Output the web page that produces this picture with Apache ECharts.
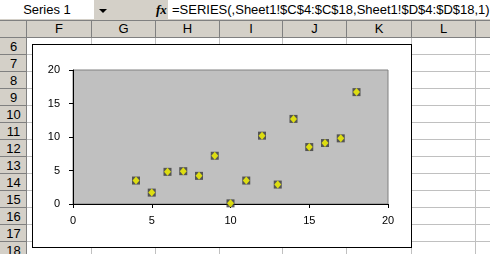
<!DOCTYPE html>
<html><head><meta charset="utf-8">
<script src="https://cdn.jsdelivr.net/npm/echarts@6/dist/echarts.min.js"></script>
<style>
html,body{margin:0;padding:0;width:490px;height:254px;overflow:hidden;background:#fff;font-family:"Liberation Sans",Arial,sans-serif;}
#ui{position:absolute;left:0;top:0;width:490px;height:254px;}
.abs{position:absolute;}
#bar{left:0;top:0;width:490px;height:20px;background:#d4d0c8;}
#namebox{left:0;top:0;width:94px;height:19px;background:#fff;font-size:13px;line-height:19px;text-align:center;color:#000;}
#arrow{left:99px;top:9px;width:0;height:0;border-left:4px solid transparent;border-right:4px solid transparent;border-top:4px solid #000;}
#fx{left:156px;top:0;height:19px;line-height:19px;font-size:13px;font-style:italic;font-weight:bold;font-family:"Liberation Serif",serif;}
#formula{left:168px;top:0;width:322px;height:19px;background:#fff;font-size:13px;line-height:19px;padding-left:4px;box-sizing:border-box;white-space:nowrap;}
#colhdr{left:0;top:20px;width:490px;height:18px;background:#d4d0c8;border-top:1px solid #808080;border-bottom:1px solid #808080;box-sizing:border-box;}
.ch{position:absolute;top:20px;height:18px;line-height:18px;font-size:13px;text-align:center;border-right:1px solid #808080;box-sizing:border-box;}
#rowhdr{left:0;top:38px;width:27px;height:216px;background:#d4d0c8;border-right:1px solid #808080;box-sizing:border-box;}
.rh{position:absolute;left:0;width:27px;height:17px;line-height:17px;font-size:13px;text-align:center;border-bottom:1px solid #808080;box-sizing:border-box;}
.vl{position:absolute;top:38px;width:1px;height:216px;background:#c0c0c0;}
.hl{position:absolute;left:27px;height:1px;width:463px;background:#c0c0c0;}
#chartbox{left:32px;top:44px;width:380px;height:204px;background:#fff;border:1px solid #000;box-sizing:border-box;}
#chart{position:absolute;left:0;top:0;width:490px;height:254px;}
</style></head>
<body>
<div id="ui"></div>
<div id="chart"></div>
<script>
// Sheet chrome
const nameBoxText = "Series 1";
const formulaText = "=SERIES(,Sheet1!$C$4:$C$18,Sheet1!$D$4:$D$18,1)";
const columnLetters = ["F","G","H","I","J","K","L"];
const rowNumbers = [6,7,8,9,10,11,12,13,14,15,16,17,18];

// Chart data
const xValues = [4,5,6,7,8,9,10,11,12,13,14,15,16,17,18];
const yValues = [3.5,1.7,4.8,4.9,4.2,7.2,0.1,3.5,10.2,2.9,12.7,8.5,9.1,9.8,16.7];
const xAxisTicks = [0,5,10,15,20];
const yAxisTicks = [0,5,10,15,20];

const ui = document.getElementById('ui');
function add(html){ ui.insertAdjacentHTML('beforeend', html); }
add('<div id="bar" class="abs"></div>');
add('<div id="namebox" class="abs">'+nameBoxText+'</div>');
add('<div id="arrow" class="abs"></div>');
add('<div id="fx" class="abs">fx</div>');
add('<div id="formula" class="abs"></div>');
document.getElementById('formula').textContent = formulaText;
// grid lines
const colEdges = [27,92,156,220,283,347,412,476,540];
for (let i=1;i<colEdges.length;i++) add('<div class="vl" style="left:'+(colEdges[i]-1)+'px"></div>');
for (let r=0;r<rowNumbers.length;r++) add('<div class="hl" style="top:'+(37+17*(r+1))+'px"></div>');
add('<div id="colhdr" class="abs"></div>');
for (let i=0;i<columnLetters.length;i++){
  add('<div class="ch" style="left:'+colEdges[i]+'px;width:'+(colEdges[i+1]-colEdges[i])+'px">'+columnLetters[i]+'</div>');
}
add('<div class="ch" style="left:0;width:27px"></div>');
add('<div id="rowhdr" class="abs"></div>');
for (let r=0;r<rowNumbers.length;r++){
  add('<div class="rh" style="top:'+(38+17*r)+'px">'+rowNumbers[r]+'</div>');
}
add('<div id="chartbox" class="abs"></div>');

const pts = xValues.map((x,i)=>[x,yValues[i]]);
const chart = echarts.init(document.getElementById('chart'), null, {renderer:'canvas'});
const axisFont = {fontFamily:'Liberation Sans, Arial, sans-serif', fontSize:11, color:'#000'};
chart.setOption({
  animation:false,
  backgroundColor:'transparent',
  grid:{left:73,top:70,right:102,bottom:50,show:true,backgroundColor:'#c0c0c0',borderColor:'#808080',borderWidth:1},
  xAxis:{type:'value',min:xAxisTicks[0],max:xAxisTicks[xAxisTicks.length-1],interval:xAxisTicks[1]-xAxisTicks[0],
    axisLine:{show:true,onZero:false,lineStyle:{color:'#000',width:1}},
    axisTick:{show:true,length:4,lineStyle:{color:'#000'}},
    axisLabel:Object.assign({margin:11},axisFont),
    splitLine:{show:false}},
  yAxis:{type:'value',min:yAxisTicks[0],max:yAxisTicks[yAxisTicks.length-1],interval:yAxisTicks[1]-yAxisTicks[0],
    axisLine:{show:true,onZero:false,lineStyle:{color:'#000',width:1}},
    axisTick:{show:true,length:4,lineStyle:{color:'#000'}},
    axisLabel:Object.assign({margin:13},axisFont),
    splitLine:{show:false}},
  series:[
    {type:'scatter',data:pts,symbol:'rect',symbolSize:8,itemStyle:{color:'#383838'},z:2},
    {type:'scatter',data:pts,symbol:'diamond',symbolSize:[7,8],itemStyle:{color:'#ffff00'},z:3}
  ]
});
</script>
</body></html>
